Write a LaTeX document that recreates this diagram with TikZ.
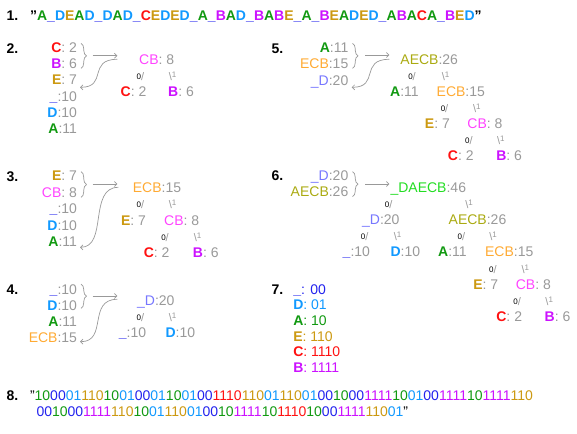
\documentclass[tikz,border=0pt]{standalone}
\usepackage{fontspec}
\setmainfont{Liberation Sans}
\usepackage{xcolor}
\definecolor{ColA}{RGB}{17,153,17}
\definecolor{ColU}{RGB}{34,34,238}
\definecolor{ColD}{RGB}{17,153,255}
\definecolor{ColE}{RGB}{204,153,17}
\definecolor{ColC}{RGB}{255,17,17}
\definecolor{ColB}{RGB}{204,17,255}
\definecolor{ColCB}{RGB}{255,68,255}
\definecolor{ColECB}{RGB}{255,170,51}
\definecolor{ColUD}{RGB}{119,119,255}
\definecolor{ColAECB}{RGB}{170,170,17}
\definecolor{ColAll}{RGB}{34,221,34}
\definecolor{ColGr}{RGB}{153,153,153}
\usepackage{tikz}
\usetikzlibrary{arrows.meta}
\usetikzlibrary{decorations.pathreplacing}
\newcommand{\Gr}[1]{\textcolor{ColGr}{#1}}
\newcommand{\LtA}{\textcolor{ColA}{\textbf{A}}}
\newcommand{\LtU}{\textcolor{ColU}{\textbf{\_}}}
\newcommand{\LtD}{\textcolor{ColD}{\textbf{D}}}
\newcommand{\LtE}{\textcolor{ColE}{\textbf{E}}}
\newcommand{\LtC}{\textcolor{ColC}{\textbf{C}}}
\newcommand{\LtB}{\textcolor{ColB}{\textbf{B}}}
\newcommand{\MgCB}{\textcolor{ColCB}{CB}}
\newcommand{\MgECB}{\textcolor{ColECB}{ECB}}
\newcommand{\MgUD}{\textcolor{ColUD}{\_D}}
\newcommand{\MgAECB}{\textcolor{ColAECB}{AECB}}
\newcommand{\MgAll}{\textcolor{ColAll}{\_DAECB}}
\newcommand{\CdA}{\textcolor{ColA}{10}}
\newcommand{\CdU}{\textcolor{ColU}{00}}
\newcommand{\CdD}{\textcolor{ColD}{01}}
\newcommand{\CdE}{\textcolor{ColE}{110}}
\newcommand{\CdC}{\textcolor{ColC}{1110}}
\newcommand{\CdB}{\textcolor{ColB}{1111}}
\newcommand{\BitZero}{\raisebox{1pt}{\fontsize{8}{8}\selectfont 0}%
\textcolor{ColGr}{\fontsize{11}{11}\selectfont /}}
\newcommand{\BitOne}{\textcolor{ColGr}{\fontsize{11}{11}\selectfont
\textbackslash\raisebox{3pt}{\fontsize{8}{8}\selectfont 1}}}
\tikzstyle{Txt}=[inner sep=0pt,outer sep=0pt,font=\fontsize{14}{16}\selectfont]
\tikzstyle{Head}=[Txt,anchor=base west,font=\fontsize{14}{16}\selectfont\bfseries]
\tikzstyle{Row}=[Txt,anchor=base east]
\tikzstyle{Code}=[Txt,anchor=base west]
\tikzstyle{Leaf}=[Txt,anchor=base]
\tikzstyle{Bit}=[inner sep=0pt,outer sep=0pt,anchor=base]
\tikzstyle{Edge}=[draw=ColGr,line width=.7pt,
-{Straight Barb[length=2.5pt,width=5pt]}]
\tikzstyle{Brace}=[draw=ColGr,line width=.7pt,decorate,
decoration={brace,amplitude=5.5pt}]
\begin{document}
\begin{tikzpicture}[x=1pt,y=-1pt]
    \useasboundingbox(0,0)rectangle(577,433);
        % 1.
        \node[Head](1h)at(6.70,20.70){1.};
        \node[Code](1s)at(30.00,20.70){\textbf{"}\LtA\LtU\LtD\LtE\LtA\LtD
            \LtU\LtD\LtA\LtD\LtU\LtC\LtE\LtD\LtE\LtD\LtU\LtA\LtU\LtB\LtA
            \LtD\LtU\LtB\LtA\LtB\LtE\LtU\LtA\LtU\LtB\LtE\LtA\LtD\LtE\LtD
            \LtU\LtA\LtB\LtA\LtC\LtA\LtU\LtB\LtE\LtD\textbf{"}};
        % 2.
        \node[Head](2h)at(6.70,53.30){2.};
        \node[Row](2r1)at(77.00,52.70){\LtC\Gr{: 2}};
        \node[Row](2r2)at(77.00,68.80){\LtB\Gr{: 6}};
        \node[Row](2r3)at(77.00,84.90){\LtE\Gr{: 7}};
        \node[Row](2r4)at(77.00,101.00){\LtU\Gr{:10}};
        \node[Row](2r5)at(77.00,117.10){\LtD\Gr{:10}};
        \node[Row](2r6)at(77.00,133.20){\LtA\Gr{:11}};
        \node[Leaf](2t)at(156.70,64.30){\MgCB\Gr{: 8}};
        \node[Bit](2t0)at(140.50,80.50){\BitZero};
        \node[Bit](2t1)at(172.50,80.50){\BitOne};
        \node[Leaf](2tc)at(133.50,96.30){\LtC\Gr{: 2}};
        \node[Leaf](2tb)at(181.00,96.30){\LtB\Gr{: 6}};
        \coordinate(2b1)at(81.00,43.30);
        \coordinate(2b2)at(81.00,68.30);
        \coordinate(2a)at(92.70,55.70);
        \coordinate(2b)at(117.30,55.70);
        \coordinate(2c)at(117.30,59.30);
        \coordinate(2d)at(80.00,87.30);
        \draw[Brace](2b1)--(2b2);
        \draw[Edge](2a)--(2b);
        \draw[Edge](2c)..controls(87.30,59.30)and(108.00,87.30)..(2d);
        % 3.
        \node[Head](3h)at(6.70,181.30){3.};
        \node[Row](3r1)at(77.00,180.70){\LtE\Gr{: 7}};
        \node[Row](3r2)at(77.00,197.15){\MgCB\Gr{: 8}};
        \node[Row](3r3)at(77.00,213.60){\LtU\Gr{:10}};
        \node[Row](3r4)at(77.00,230.05){\LtD\Gr{:10}};
        \node[Row](3r5)at(77.00,246.50){\LtA\Gr{:11}};
        \node[Leaf](3t)at(157.00,192.00){\MgECB\Gr{:15}};
        \node[Bit](3t0)at(140.50,208.50){\BitZero};
        \node[Bit](3t1)at(172.50,208.50){\BitOne};
        \node[Leaf](3te)at(133.50,225.00){\LtE\Gr{: 7}};
        \node[Leaf](3tcb)at(181.70,225.00){\MgCB\Gr{: 8}};
        \node[Bit](3tcb0)at(165.00,241.00){\BitZero};
        \node[Bit](3tcb1)at(197.50,241.00){\BitOne};
        \node[Leaf](3tc)at(156.70,257.00){\LtC\Gr{: 2}};
        \node[Leaf](3tb)at(205.80,257.00){\LtB\Gr{: 6}};
        \coordinate(3b1)at(81.00,171.70);
        \coordinate(3b2)at(81.00,197.30);
        \coordinate(3a)at(92.70,184.00);
        \coordinate(3b)at(117.30,184.00);
        \coordinate(3c)at(118.30,187.30);
        \coordinate(3d)at(80.00,247.30);
        \draw[Brace](3b1)--(3b2);
        \draw[Edge](3a)--(3b);
        \draw[Edge](3c)..controls(88.30,187.30)and(108.00,247.30)..(3d);
        % 4.
        \node[Head](4h)at(6.70,294.00){4.};
        \node[Row](4r1)at(77.00,294.00){\LtU\Gr{:10}};
        \node[Row](4r2)at(77.00,310.00){\LtD\Gr{:10}};
        \node[Row](4r3)at(77.00,326.00){\LtA\Gr{:11}};
        \node[Row](4r4)at(77.00,342.00){\MgECB\Gr{:15}};
        \node[Leaf](4t)at(155.80,305.00){\MgUD\Gr{:20}};
        \node[Bit](4t0)at(140.50,321.00){\BitZero};
        \node[Bit](4t1)at(172.50,321.00){\BitOne};
        \node[Leaf](4tu)at(132.50,337.00){\LtU\Gr{:10}};
        \node[Leaf](4td)at(180.30,337.00){\LtD\Gr{:10}};
        \coordinate(4b1)at(81.00,284.00);
        \coordinate(4b2)at(81.00,308.30);
        \coordinate(4a)at(92.70,296.00);
        \coordinate(4b)at(117.30,296.00);
        \coordinate(4c)at(117.30,299.30);
        \coordinate(4d)at(80.00,341.70);
        \draw[Brace](4b1)--(4b2);
        \draw[Edge](4a)--(4b);
        \draw[Edge](4c)..controls(87.30,299.30)and(108.00,341.70)..(4d);
        % 5.
        \node[Head](5h)at(271.70,53.30){5.};
        \node[Row](5r1)at(348.30,52.70){\LtA\Gr{:11}};
        \node[Row](5r2)at(348.30,69.00){\MgECB\Gr{:15}};
        \node[Row](5r3)at(348.30,85.30){\MgUD\Gr{:20}};
        \node[Leaf](5t)at(429.20,64.30){\MgAECB\Gr{:26}};
        \node[Bit](5t0)at(412.00,80.50){\BitZero};
        \node[Bit](5t1)at(445.50,80.50){\BitOne};
        \node[Leaf](5ta)at(404.50,96.30){\LtA\Gr{:11}};
        \node[Leaf](5tecb)at(460.80,96.30){\MgECB\Gr{:15}};
        \node[Bit](5tecb0)at(444.50,112.50){\BitZero};
        \node[Bit](5tecb1)at(476.80,112.50){\BitOne};
        \node[Leaf](5te)at(437.40,128.50){\LtE\Gr{: 7}};
        \node[Leaf](5tcb)at(484.90,128.50){\MgCB\Gr{: 8}};
        \node[Bit](5tcb0)at(468.80,144.50){\BitZero};
        \node[Bit](5tcb1)at(500.80,144.50){\BitOne};
        \node[Leaf](5tc)at(460.80,160.50){\LtC\Gr{: 2}};
        \node[Leaf](5tb)at(509.10,160.50){\LtB\Gr{: 6}};
        \coordinate(5b1)at(352.50,43.30);
        \coordinate(5b2)at(352.50,68.30);
        \coordinate(5a)at(365.00,55.00);
        \coordinate(5b)at(389.30,55.00);
        \coordinate(5c)at(389.30,59.30);
        \coordinate(5d)at(351.70,87.30);
        \draw[Brace](5b1)--(5b2);
        \draw[Edge](5a)--(5b);
        \draw[Edge](5c)..controls(359.30,59.30)and(380.00,87.30)..(5d);
        % 6.
        \node[Head](6h)at(271.70,180.70){6.};
        \node[Row](6r1)at(348.30,180.70){\MgUD\Gr{:20}};
        \node[Row](6r2)at(348.30,196.70){\MgAECB\Gr{:26}};
        \node[Leaf](6t)at(428.30,192.30){\MgAll\Gr{:46}};
        \node[Bit](6t0)at(388.70,208.50){\BitZero};
        \node[Bit](6t1)at(469.00,208.50){\BitOne};
        \node[Leaf](6tud)at(380.80,224.50){\MgUD\Gr{:20}};
        \node[Leaf](6taecb)at(477.50,224.50){\MgAECB\Gr{:26}};
        \node[Bit](6tud0)at(364.70,240.70){\BitZero};
        \node[Bit](6tud1)at(397.50,240.70){\BitOne};
        \node[Bit](6taecb0)at(461.30,240.70){\BitZero};
        \node[Bit](6taecb1)at(493.00,240.70){\BitOne};
        \node[Leaf](6tu)at(356.30,256.70){\LtU\Gr{:10}};
        \node[Leaf](6td)at(405.30,256.70){\LtD\Gr{:10}};
        \node[Leaf](6ta)at(452.50,256.70){\LtA\Gr{:11}};
        \node[Leaf](6tecb)at(509.20,256.70){\MgECB\Gr{:15}};
        \node[Bit](6tecb0)at(492.80,273.00){\BitZero};
        \node[Bit](6tecb1)at(525.30,273.00){\BitOne};
        \node[Leaf](6te)at(485.80,289.30){\LtE\Gr{: 7}};
        \node[Leaf](6tcb)at(533.30,289.30){\MgCB\Gr{: 8}};
        \node[Bit](6tcb0)at(517.20,305.30){\BitZero};
        \node[Bit](6tcb1)at(549.20,305.30){\BitOne};
        \node[Leaf](6tc)at(509.20,321.00){\LtC\Gr{: 2}};
        \node[Leaf](6tb)at(557.50,321.00){\LtB\Gr{: 6}};
        \coordinate(6b1)at(352.50,171.70);
        \coordinate(6b2)at(352.50,196.70);
        \coordinate(6a)at(365.00,184.00);
        \coordinate(6b)at(389.30,184.00);
        \draw[Brace](6b1)--(6b2);
        \draw[Edge](6a)--(6b);
        % 7.
        \node[Head](7h)at(271.70,294.00){7.};
        \node[Code](7u)at(293.30,294.00){\textcolor{ColU}{\textbf{\_}: 00}};
        \node[Code](7d)at(293.30,309.70){\textcolor{ColD}{\textbf{D}: 01}};
        \node[Code](7a)at(293.30,325.40){\textcolor{ColA}{\textbf{A}: 10}};
        \node[Code](7e)at(293.30,341.10){\textcolor{ColE}{\textbf{E}: 110}};
        \node[Code](7c)at(293.30,356.80){\textcolor{ColC}{\textbf{C}: 1110}};
        \node[Code](7b)at(293.30,372.50){\textcolor{ColB}{\textbf{B}: 1111}};
        % 8.
        \node[Head](8h)at(6.70,400.70){8.};
        \node[Code](8l1)at(30.00,400.70){"\CdA\CdU\CdD\CdE\CdA\CdD\CdU\CdD
            \CdA\CdD\CdU\CdC\CdE\CdD\CdE\CdD\CdU\CdA\CdU\CdB\CdA\CdD\CdU
            \CdB\CdA\CdB\CdE};
        \node[Code](8l2)at(36.50,416.70){\CdU\CdA\CdU\CdB\CdE\CdA\CdD\CdE
            \CdD\CdU\CdA\CdB\CdA\CdC\CdA\CdU\CdB\CdE\CdD"};
    \end{tikzpicture}
\end{document}
